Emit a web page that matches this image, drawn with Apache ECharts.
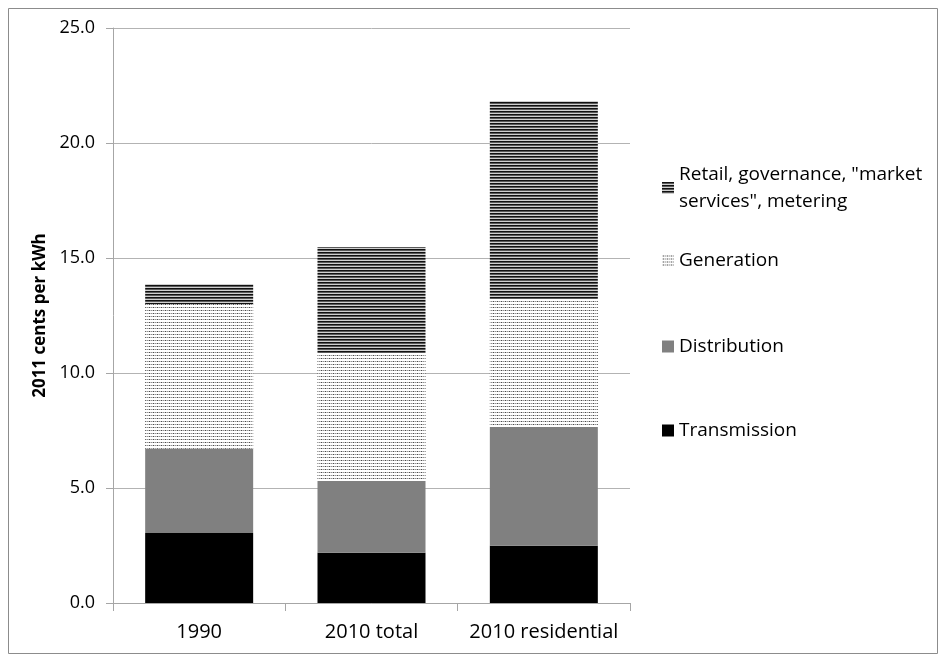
<!DOCTYPE html>
<html>
<head>
<meta charset="utf-8">
<script src="https://cdn.jsdelivr.net/npm/echarts@6/dist/echarts.min.js"></script>
<style>
  html, body { margin: 0; padding: 0; background: #fff; }
  #echarts { width: 939px; height: 656px; }
</style>
</head>
<body>
<div id="echarts"></div>
<script>
// chart data
var categories = ['1990', '2010 total', '2010 residential'];
var transmission = [3.04, 2.19, 2.49];
var distribution = [3.67, 3.11, 5.16];
var generation = [6.29, 5.57, 5.57];
var retail = [0.87, 4.61, 8.61];
var yTicks = [0, 5, 10, 15, 20, 25];

var retailName = 'Retail, governance, "market\nservices", metering';

// small canvas tiles for the hatched fills
function makeTile(w, h, draw) {
    var c = document.createElement('canvas');
    c.width = w;
    c.height = h;
    var ctx = c.getContext('2d');
    draw(ctx);
    return c;
}

var stripeTile = makeTile(4, 3, function (ctx) {
    ctx.fillStyle = '#111';
    ctx.fillRect(0, 0, 4, 1);
    ctx.fillStyle = '#5a5a5a';
    ctx.fillRect(0, 1, 4, 1);
    ctx.fillStyle = '#cfcfcf';
    ctx.fillRect(0, 2, 4, 1);
});

var dotTile = makeTile(4, 3, function (ctx) {
    ctx.fillStyle = '#fff';
    ctx.fillRect(0, 0, 4, 3);
    ctx.fillStyle = '#c8c8c8';
    ctx.fillRect(0, 1, 4, 1);
    ctx.fillStyle = '#4a4a4a';
    ctx.fillRect(1, 1, 1, 1);
    ctx.fillStyle = '#909090';
    ctx.fillRect(3, 1, 1, 1);
});

var stripeFill = { image: stripeTile, repeat: 'repeat' };
var dotFill = { image: dotTile, repeat: 'repeat' };

var font = '"Open Sans", "Noto Sans", sans-serif';

function legendAt(name, top) {
    return {
        data: [{ name: name, icon: 'rect' }],
        left: 662,
        top: top,
        orient: 'vertical',
        itemWidth: 12,
        itemHeight: 12,
        itemGap: 0,
        padding: 0,
        selectedMode: false,
        textStyle: { fontFamily: font, fontSize: 19, color: '#000', lineHeight: 27 }
    };
}

var myChart = echarts.init(document.getElementById('echarts'));

var option = {
    backgroundColor: '#fff',
    animation: false,
    graphic: [
        {
            type: 'rect',
            shape: { x: 8.5, y: 8.5, width: 929, height: 645 },
            style: { fill: 'none', stroke: '#8c8c8c', lineWidth: 1 },
            silent: true
        }
    ],
    legend: [
        legendAt(retailName, 161),
        legendAt('Generation', 247),
        legendAt('Distribution', 333),
        legendAt('Transmission', 417)
    ],
    grid: {
        left: 113,
        right: 309,
        top: 28,
        bottom: 53,
        containLabel: false
    },
    xAxis: [
        {
            type: 'category',
            data: categories,
            axisLine: { lineStyle: { color: '#a6a6a6', width: 1 } },
            axisTick: { show: true, length: 8, alignWithLabel: false, lineStyle: { color: '#a6a6a6' } },
            axisLabel: { interval: 0, fontFamily: font, fontSize: 20, color: '#000', margin: 19 }
        }
    ],
    yAxis: [
        {
            type: 'value',
            min: 0,
            max: 25,
            interval: 5,
            name: '2011 cents per kWh',
            nameLocation: 'middle',
            nameGap: 62,
            nameTextStyle: { fontFamily: font, fontSize: 17, fontWeight: 'bold', color: '#000' },
            axisLine: { show: true, lineStyle: { color: '#a6a6a6' } },
            axisTick: { show: true, length: 7, lineStyle: { color: '#a6a6a6' } },
            splitLine: { lineStyle: { color: '#b3b3b3' } },
            axisLabel: {
                fontFamily: font, fontSize: 18, color: '#000', margin: 18,
                formatter: function (v) { return yTicks.indexOf(v) >= 0 ? v.toFixed(1) : ''; }
            }
        }
    ],
    series: [
        {
            name: 'Transmission',
            type: 'bar',
            stack: 'cost',
            barWidth: 108,
            itemStyle: { color: '#000' },
            data: transmission
        },
        {
            name: 'Distribution',
            type: 'bar',
            stack: 'cost',
            itemStyle: { color: '#808080' },
            data: distribution
        },
        {
            name: 'Generation',
            type: 'bar',
            stack: 'cost',
            itemStyle: { color: dotFill },
            data: generation
        },
        {
            name: retailName,
            type: 'bar',
            stack: 'cost',
            itemStyle: { color: stripeFill },
            data: retail
        }
    ]
};
myChart.setOption(option);
</script>
</body>
</html>
